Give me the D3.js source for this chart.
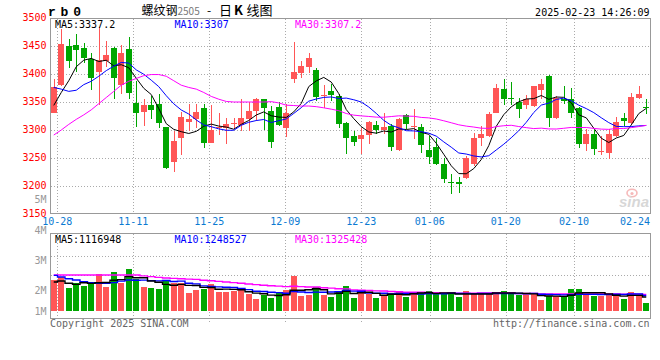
<!DOCTYPE html>
<html><head><meta charset="utf-8">
<script src="https://cdn.jsdelivr.net/npm/d3@7"></script>
<style>body{margin:0;background:#fff}svg{display:block}</style>
</head><body><svg id="c" width="660" height="360"></svg>
<script>
// ---------------- data ----------------
const dates = ["10-25","10-28","10-29","10-30","10-31","11-01","11-04","11-05","11-06","11-07","11-08",
"11-11","11-12","11-13","11-14","11-15","11-18","11-19","11-20","11-21","11-22",
"11-25","11-26","11-27","11-28","11-29","12-02","12-03","12-04","12-05","12-06",
"12-09","12-10","12-11","12-12","12-13","12-16","12-17","12-18","12-19","12-20",
"12-23","12-24","12-25","12-26","12-27","12-30","12-31","01-02","01-03",
"01-06","01-07","01-08","01-09","01-10","01-13","01-14","01-15","01-16","01-17",
"01-20","01-21","01-22","01-23","01-24","01-27","02-05","02-06","02-07",
"02-10","02-11","02-12","02-13","02-14","02-17","02-18","02-19","02-20","02-21","02-24"];
const open  = [3331,3379.8,3450.6,3451.8,3447,3427.4,3403.6,3423.2,3447,3380.4,3445.2,3348.8,3332.7,3344.6,3347,3305.4,3243.5,3285,3314.9,3319,
3339.9,3277.4,3305,3304.2,3312,3309,3319,3334,3354.8,3334,3341,3304,3390.5,3402.4,3412.5,3407,3360,3369.6,3360.7,3313,
3289.3,3283.3,3291,3309,3300,3307,3264.3,3326.8,3305.4,3305.4,3264.3,3269.6,3239.9,3207.7,3207.7,3213.7,3238.7,3285,3289.3,3331,
3372.6,3357.7,3350.6,3344.6,3342.9,3370.8,3396.4,3320.8,3355.4,3354.8,3339.9,3274.4,3293.5,3260,3259.5,3289.3,3320.8,3312.5,3357.7,3341];
const high  = [3390.5,3481,3462,3470.8,3456,3438,3484,3459,3448,3451.8,3466.7,3387.5,3354.8,3360.7,3363.7,3306,3298.2,3332.7,3345.8,3345.8,
3345.8,3344.6,3331,3322,3322,3356,3350,3357.7,3356,3343,3350,3345.8,3457.7,3423.2,3438,3411.3,3380.4,3381.5,3365,3313.5,
3298.2,3304.2,3316,3316,3331,3310,3322,3329,3337,3311.3,3289.3,3286.3,3250.6,3220.8,3216,3253.6,3295.2,3307,3332.1,3381.5,
3391.7,3386.3,3356.5,3362.5,3379,3390.5,3398.2,3360.7,3378.6,3375.6,3341,3301.2,3299.4,3289.3,3301.2,3323.2,3331,3366.7,3378.6,3356];
const low   = [3330,3378.6,3411.3,3403.6,3419,3371.4,3344.6,3413,3356,3363.7,3356,3306,3307,3319,3304,3231,3225.6,3255.4,3298.2,3304,
3268.5,3277,3291,3274.4,3301,3298,3298,3316,3299.4,3268.5,3307,3288,3384.5,3393.5,3402.4,3351.8,3339.9,3351.8,3304.2,3257.7,
3271.4,3256.5,3274.4,3292.3,3292.3,3262.5,3262.5,3301,3283.3,3259.5,3238.7,3237.5,3204.8,3185.1,3188,3212,3235.7,3271.4,3288,3330.5,
3344.6,3344.6,3320.8,3337,3341.7,3354.8,3306,3319,3345.8,3322,3268.5,3262.5,3255.4,3255.4,3247.6,3288,3307,3311.3,3354.8,3328];
const close = [3377.4,3453,3422.6,3442.3,3428,3393.5,3425,3434,3392.3,3438,3366.7,3331,3344.6,3336.3,3313,3231.5,3280.4,3323.8,3320.2,3332,
3277.4,3299.4,3306,3311.3,3313,3320.8,3334,3354.8,3338.7,3279,3309,3331,3404.2,3414.3,3429.2,3359.5,3362.5,3362.5,3311.3,3286.3,
3279.2,3291,3314.9,3300,3306,3269.6,3319,3310,3307.7,3272.6,3252.4,3238.7,3212,3204.8,3203,3250.6,3285,3292.3,3329.2,3375.6,
3354.8,3354.8,3337,3354.8,3378.6,3382.7,3320.8,3357.7,3351.8,3331,3274.4,3293.5,3265.5,3262.5,3292.3,3314.9,3316,3359.5,3363.7,3338.7];
// volume in millions of lots
const volume = [2.49,2.76,1.87,2.23,2.01,2.23,3.00,1.96,3.16,2.28,3.40,2.59,1.93,1.87,1.79,2.52,2.23,2.28,1.47,1.72,
1.79,2.20,1.55,1.55,1.61,1.66,1.39,0.99,1.26,1.07,1.52,1.69,2.83,1.23,1.28,1.93,1.28,1.15,1.52,2.01,
1.07,1.61,1.34,1.07,1.26,1.47,1.61,1.15,1.47,1.52,1.61,1.34,1.34,1.45,1.10,1.61,1.34,1.34,1.45,1.52,
1.61,1.34,1.26,1.34,1.34,0.89,1.21,1.21,1.21,1.79,1.79,1.34,1.21,1.21,1.34,1.21,0.99,1.52,1.21,0.67];
const ma5Lead  = [3344,3367,3388,3413];
const ma10Lead = [3376,3373,3369,3371,3381,3387,3396,3406,3414];
const ma30Lead = [3291,3300,3310,3319,3327,3336,3347,3358,3369,3380,3387,3392,3397,3399,3399,3396,3388,3380,3376,3373,
3367,3360,3355,3351,3350,3350,3350,3350,3350];
const vma5Lead  = [2.33,2.41,2.23,2.14];
const vma10Lead = [2.86,2.73,2.59,2.49,2.35,2.28,2.23,2.23,2.28];
const vma30Lead = [2.89,2.89,2.89,2.89,2.89,2.89,2.89,2.89,2.89,2.89,2.89,2.89,2.82,2.76,2.70,2.65,2.62,2.59,2.56,2.54,
2.47,2.43,2.38,2.33,2.28,2.23,2.17,2.12,2.07];
const priceTicks = [3500,3450,3400,3350,3300,3250,3200,3150];
const volTicks = [5,4,3,2,1];
const dateTicks = ["10-28","11-11","11-25","12-09","12-23","01-06","01-20","02-10","02-24"];
const title = {code:"r b 0", name:"螺纹钢", contract:"2505", kind:"日K线图", time:"2025-02-23 14:26:09"};
const priceMA = [["MA5","3337.2"],["MA10","3307"],["MA30","3307.2"]];
const volMA = [["MA5","1116948"],["MA10","1248527"],["MA30","1325428"]];

// ---------------- drawing ----------------
const svg = d3.select("#c");
const MONO = "'DejaVu Sans Mono', monospace";
const RED = "#ff5656", GREEN = "#00a600";
const maColors = ["#000000","#0000ff","#ff00ff"];
const N = dates.length;
const xb = d3.scaleBand().domain(d3.range(N)).range([50,650]).padding(0);
const step = xb.step();
const cx = i => xb(i) + step/2;
const xg = d3.scaleLinear().domain([0, N-1]).range([49.7, 650.1]);
const yP = d3.scaleLinear().domain([3150,3500]).range([214,18]);
const yV = d3.scaleLinear().domain([0,6.27]).range([311,233]);
const yLab = d3.scaleLinear().domain([4,5]).range([230,199.7]);

function movingAvg(vals, n, lead){
  return vals.map((v,i)=> i < n-1 ? lead[i] : d3.mean(vals.slice(i-n+1,i+1)));
}
const tickIdx = dateTicks.map(d=>dates.indexOf(d));

// grids
const grid = svg.append("g").attr("stroke","#aaa").attr("stroke-dasharray","1,2").attr("stroke-width",1);
priceTicks.slice(1,-1).forEach(p=>{
  const y = Math.round(yP(p))+0.5;
  grid.append("line").attr("x1",51).attr("x2",650).attr("y1",y).attr("y2",y);
});
[256,275].forEach(y=>grid.append("line").attr("x1",51).attr("x2",650).attr("y1",y+0.5).attr("y2",y+0.5));
tickIdx.forEach(i=>{
  const x = Math.round(xg(i))+0.5;
  if (x >= 649) return;
  grid.append("line").attr("x1",x).attr("x2",x).attr("y1",19).attr("y2",213);
  grid.append("line").attr("x1",x).attr("x2",x).attr("y1",234).attr("y2",322);
});

// candles
const cg = svg.append("g");
d3.range(N).forEach(i=>{
  const up = close[i] >= open[i];
  const col = up ? RED : GREEN;
  const bx = Math.round(xb(i)+0.75);
  const top = Math.round(yP(Math.max(open[i],close[i])));
  const bot = Math.round(yP(Math.min(open[i],close[i])));
  cg.append("rect").attr("x",bx+3).attr("width",1)
    .attr("y",Math.round(yP(high[i]))).attr("height",Math.max(1,Math.round(yP(low[i]))-Math.round(yP(high[i]))))
    .attr("fill",col);
  cg.append("rect").attr("x",bx).attr("width",6).attr("y",top).attr("height",Math.max(1,bot-top)).attr("fill",col);
  // volume bar
  const vt = Math.round(yV(volume[i]));
  cg.append("rect").attr("x",bx).attr("width",6).attr("y",vt).attr("height",Math.round(yV(0))-vt).attr("fill",col);
});

// price MA lines
const pm = [movingAvg(close,5,ma5Lead), movingAvg(close,10,ma10Lead), movingAvg(close,30,ma30Lead)];
pm.forEach((arr,k)=>{
  svg.append("path").attr("d", d3.line().x((d,i)=>cx(i)).y(d=>yP(d))(arr))
    .attr("fill","none").attr("stroke",maColors[k]).attr("stroke-width",1);
});
// volume MA lines
const vm = [movingAvg(volume,5,vma5Lead), movingAvg(volume,10,vma10Lead), movingAvg(volume,30,vma30Lead)];
[2,1,0].forEach(k=>{
  svg.append("path").attr("d", d3.line().curve(d3.curveStep).x((d,i)=>cx(i)).y(d=>yV(d))(vm[k]))
    .attr("fill","none").attr("stroke",maColors[k]).attr("stroke-width",1.4);
});

// borders
const bd = svg.append("g").attr("fill","none").attr("stroke","#999").attr("stroke-width",1);
bd.append("rect").attr("x",50.5).attr("y",18.5).attr("width",600).attr("height",195);
bd.append("rect").attr("x",50.5).attr("y",233.5).attr("width",600).attr("height",85);

// price axis labels
priceTicks.forEach(p=>{
  svg.append("text").attr("x",46.5).attr("y",yP(p)-1).attr("dy","0.35em").attr("text-anchor","end")
    .attr("font-family",MONO).attr("font-size",10).attr("fill","#ff0000").text(p);
});
// volume axis labels (sina's own label scale)
volTicks.forEach(v=>{
  svg.append("text").attr("x",46.5).attr("y",Math.min(yLab(v),311.7)).attr("dy","0.35em").attr("text-anchor","end")
    .attr("font-family",MONO).attr("font-size",10).attr("fill","#999").text(v+"M");
});
// date labels
tickIdx.forEach((i,k)=>{
  const w = dateTicks[k].length*6.02;
  const c = Math.min(xg(i), 650 - w/2);
  svg.append("text").attr("x",c).attr("y",224.5).attr("text-anchor","middle")
    .attr("font-family",MONO).attr("font-size",10).attr("fill","#0a7ad2").text(dateTicks[k]);
});

// MA legends
const legX = [55,174.5,295];
priceMA.forEach((m,k)=>{
  svg.append("text").attr("x",legX[k]).attr("y",27.5).attr("font-family",MONO).attr("font-size",10)
    .attr("fill",maColors[k]).text(m[0]+":"+m[1]);
});
volMA.forEach((m,k)=>{
  svg.append("text").attr("x",legX[k]).attr("y",242.5).attr("font-family",MONO).attr("font-size",10)
    .attr("fill",maColors[k]).text(m[0]+":"+m[1]);
});

// title
svg.append("text").attr("x",48).attr("y",15.5).attr("font-family","'Liberation Mono', monospace")
  .attr("font-weight","bold").attr("font-size",13).attr("letter-spacing",-1.5).attr("fill","#000").text(title.code);
const tt = svg.append("text").attr("y",14.5).attr("font-family","'Noto Sans CJK SC', sans-serif").attr("font-size",12).attr("fill","#000");
tt.append("tspan").attr("x",141.5).text(title.name);
tt.append("tspan").attr("x",177.5).attr("font-size",10).attr("fill","#777").text(title.contract);
tt.append("tspan").attr("x",207).text("-");
tt.append("tspan").attr("x",219).attr("font-size",13).text(title.kind.slice(0,1));
tt.append("tspan").attr("x",234).attr("font-size",13).attr("font-weight","bold").text(title.kind.slice(1,2));
tt.append("tspan").attr("x",246.5).attr("font-size",13).text(title.kind.slice(2));
svg.append("text").attr("x",649.5).attr("y",15.5).attr("text-anchor","end").attr("font-family",MONO)
  .attr("font-size",10).attr("fill","#000").text(title.time);

// footer
svg.append("text").attr("x",50).attr("y",327).attr("font-family",MONO).attr("font-size",10).attr("fill","#666").text("Copyright 2025 SINA.COM");
svg.append("text").attr("x",649.5).attr("y",327).attr("text-anchor","end").attr("font-family",MONO).attr("font-size",10).attr("fill","#666").text("http://finance.sina.com.cn");

// sina watermark
const wm = svg.append("g").attr("opacity",0.55);
wm.append("ellipse").attr("cx",632).attr("cy",193).attr("rx",5).attr("ry",3.8).attr("fill","none").attr("stroke","#f08080").attr("stroke-width",1.6);
wm.append("circle").attr("cx",632).attr("cy",193.5).attr("r",1.6).attr("fill","#f08080");
wm.append("text").attr("x",619).attr("y",207).attr("font-family","'Liberation Sans', Arial, sans-serif")
  .attr("font-style","italic").attr("font-weight","bold").attr("font-size",15).attr("fill","#b8b8b8").text("sina");
</script></body></html>
